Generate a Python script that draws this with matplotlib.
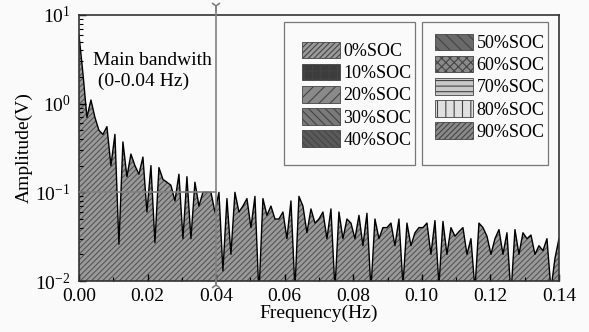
import numpy as np
import matplotlib
matplotlib.use("Agg")
import matplotlib.pyplot as plt
from matplotlib.patches import Patch, Rectangle
from matplotlib.ticker import LogLocator, MultipleLocator, LogFormatterMathtext, FormatStrFormatter

plt.rcParams['font.family'] = ['Liberation Serif', 'DejaVu Serif']
plt.rcParams['mathtext.fontset'] = 'custom'
plt.rcParams['mathtext.rm'] = 'Liberation Serif'
plt.rcParams['mathtext.it'] = 'Liberation Serif:italic'
plt.rcParams['hatch.linewidth'] = 0.8

# Frequency step of the spectrum (Hz)
df = 0.14 / 120
amplitude = [
    6.0, 2.2, 0.7, 1.1, 0.7, 0.5, 0.45, 0.55, 0.2, 0.45,
    0.026, 0.37, 0.15, 0.27, 0.2, 0.16, 0.25, 0.06, 0.2, 0.027,
    0.19, 0.14, 0.13, 0.12, 0.08, 0.16, 0.03, 0.15, 0.03, 0.13,
    0.07, 0.1, 0.1, 0.1, 0.06, 0.1, 0.013, 0.085, 0.02, 0.1,
    0.06, 0.07, 0.085, 0.04, 0.09, 0.007, 0.085, 0.055, 0.07, 0.05,
    0.05, 0.06, 0.03, 0.08, 0.008, 0.09, 0.07, 0.035, 0.065, 0.045,
    0.05, 0.06, 0.03, 0.065, 0.008, 0.06, 0.03, 0.05, 0.045, 0.03,
    0.055, 0.025, 0.058, 0.008, 0.05, 0.03, 0.04, 0.04, 0.045, 0.025,
    0.05, 0.009, 0.045, 0.025, 0.035, 0.04, 0.04, 0.045, 0.02, 0.048,
    0.009, 0.047, 0.02, 0.04, 0.032, 0.036, 0.04, 0.02, 0.03, 0.008,
    0.045, 0.04, 0.032, 0.02, 0.03, 0.038, 0.02, 0.035, 0.007, 0.038,
    0.02, 0.035, 0.03, 0.033, 0.02, 0.025, 0.022, 0.03, 0.008, 0.018,
    0.03,
]
freq = np.arange(len(amplitude)) * df

legend1_labels = ['0%SOC', '10%SOC', '20%SOC', '30%SOC', '40%SOC']
legend1_hatches = ['//////', '++', '///', '\\\\\\\\', '\\\\\\\\\\']
legend1_faces = ['#9a9a9a', '#3c3c3c', '#8a8a8a', '#7a7a7a', '#5a5a5a']
legend2_labels = ['50%SOC', '60%SOC', '70%SOC', '80%SOC', '90%SOC']
legend2_hatches = ['\\\\\\', 'xxxx', '---', '||', '//////']
legend2_faces = ['#6a6a6a', '#8a8a8a', '#c8c8c8', '#e0e0e0', '#8a8a8a']

bandwidth = 0.04
ref_level = 0.1

fig = plt.figure(figsize=(5.89, 3.32), dpi=100, facecolor='#fafafa')
ax = fig.add_axes([0.134, 0.1536, 0.815, 0.8014])
ax.set_facecolor('#fafafa')

ax.fill_between(freq, 1e-3, amplitude, facecolor='#9a9a9a', edgecolor='#555555',
                hatch='//////', linewidth=0, zorder=1)
ax.plot(freq, amplitude, color='black', lw=1.0, zorder=2)

# reference lines
ax.plot([0, bandwidth], [ref_level, ref_level], color='#808080', lw=1.2, zorder=3)
ax.plot([bandwidth, bandwidth], [10**-2.04, 10**1.1], color='#808080', lw=1.2,
        zorder=3, clip_on=False)
ax.plot([bandwidth], [10**1.1], marker='1', ms=8, color='#808080', mew=1.2, clip_on=False, zorder=3)
ax.plot([bandwidth], [10**-2.04], marker='2', ms=8, color='#808080', mew=1.2, clip_on=False, zorder=3)

ax.set_xlim(0, 0.14)
ax.set_ylim(1e-2, 10)
ax.set_yscale('log')
ax.xaxis.set_major_locator(MultipleLocator(0.02))
ax.xaxis.set_minor_locator(MultipleLocator(0.01))
ax.xaxis.set_major_formatter(FormatStrFormatter('%.2f'))
ax.yaxis.set_major_locator(LogLocator(base=10, numticks=10))
ax.yaxis.set_minor_locator(LogLocator(base=10, subs=np.arange(2, 10), numticks=10))
ax.yaxis.set_major_formatter(LogFormatterMathtext())
ax.tick_params(which='both', direction='in', labelsize=14, top=False, right=False)
ax.tick_params(which='major', length=5, width=1)
ax.tick_params(axis='x', which='major', pad=5)
ax.tick_params(axis='y', which='major', pad=6)
ax.tick_params(which='minor', length=3, width=0.8)
for s in ax.spines.values():
    s.set_linewidth(1.2)
    s.set_color('#333333')

ax.set_xlabel('Frequency(Hz)', fontsize=14, labelpad=0)
ax.set_ylabel('Amplitude(V)', fontsize=14, labelpad=2)

ax.text(0.0041, 10**0.37, 'Main bandwith\n (0-0.04 Hz)', fontsize=14,
        ha='left', va='center', linespacing=1.25)

# legend frames
for x0, x1 in [(0.427, 0.700), (0.715, 0.977)]:
    ax.add_patch(Rectangle((x0, 0.436), x1 - x0, 0.974 - 0.436, transform=ax.transAxes,
                           facecolor='#fafafa', edgecolor='#777777', lw=0.9, zorder=4))

h1 = [Patch(facecolor=f, edgecolor='#444444', hatch=h, lw=0.6)
      for f, h in zip(legend1_faces, legend1_hatches)]
h2 = [Patch(facecolor=f, edgecolor='#444444', hatch=h, lw=0.6)
      for f, h in zip(legend2_faces, legend2_hatches)]
common = dict(fontsize=13, handlelength=2.1, handleheight=1.05, labelspacing=0.2,
              handletextpad=0.2, borderpad=0, frameon=False, borderaxespad=0,
              loc='upper left')
leg1 = ax.legend(h1, legend1_labels, bbox_to_anchor=(0.4646, 0.90), **common)
leg1.set_zorder(5)
ax.add_artist(leg1)
leg2 = ax.legend(h2, legend2_labels, bbox_to_anchor=(0.7417, 0.93), **common)
leg2.set_zorder(5)

fig.savefig('out.png', dpi=100, facecolor=fig.get_facecolor())
